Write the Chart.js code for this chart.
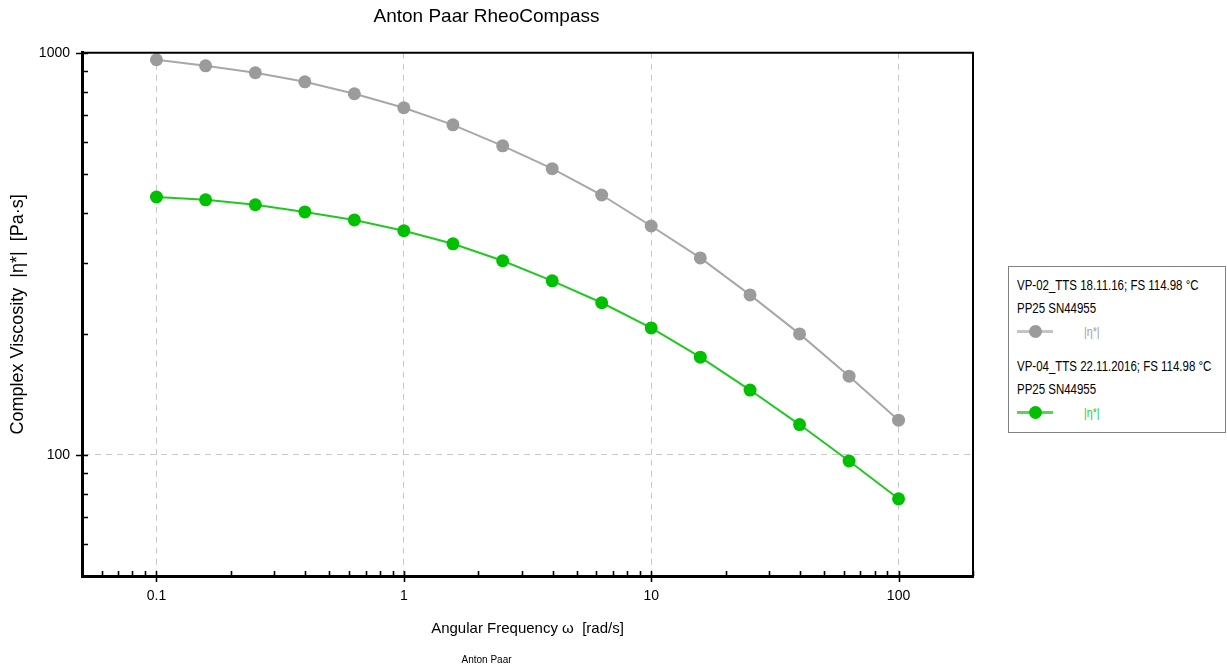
<!DOCTYPE html>
<html>
<head>
<meta charset="utf-8">
<script src="https://cdn.jsdelivr.net/npm/chart.js@4.4.1/dist/chart.umd.min.js"></script>
<style>
  body { margin: 0; background: #fff; }
  #wrap { position: relative; width: 1227px; height: 672px; }
  #legend {
    position: absolute; left: 1008px; top: 266px; width: 216px; height: 165px;
    border: 1px solid #808080; background: #fff;
    font-family: "Liberation Sans", Arial, sans-serif; font-size: 14px; color: #000;
  }
  .lg-text { position: absolute; left: 8px; white-space: nowrap; line-height: 16px;
             transform: scaleX(0.82); transform-origin: left center; }
  .lg-line { position: absolute; left: 8px; width: 36px; height: 3px; }
  .lg-dot { position: absolute; left: 20px; width: 13px; height: 13px; border-radius: 50%; }
  .lg-lab { position: absolute; left: 75px; line-height: 16px; font-size: 13px;
            transform: scaleX(0.82); transform-origin: left center; }
</style>
</head>
<body>
<div id="wrap">
  <canvas id="c"></canvas>
  <div id="legend"></div>
</div>
<script>
// angular frequency, rad/s
const omega = [0.1, 0.158, 0.251, 0.398, 0.631, 1, 1.58, 2.51, 3.98, 6.31, 10, 15.8, 25.1, 39.8, 63.1, 100];
// complex viscosity |eta*|, Pa.s
const etaVP02 = [961, 928, 892, 847, 791, 730, 662, 587, 515, 443, 371, 309, 250, 200, 157, 122];
const etaVP04 = [438, 431, 419, 402, 384, 361, 335, 304, 271, 239, 207, 175, 145, 119, 96.6, 77.8];

const seriesNames = ['VP-02_TTS 18.11.16; FS 114.98 °C', 'VP-04_TTS 22.11.2016; FS 114.98 °C'];
const seriesSub = 'PP25 SN44955';
const xTicks = [0.1, 1, 10, 100];
const yTicks = [100, 1000];

const SANS = '"Liberation Sans", Arial, sans-serif';

const GRAY = '#9b9b9b', GREEN = '#00c000';

// inward minor ticks + crossing major ticks, and the top/right frame
const frameTicks = {
  id: 'frameTicks',
  afterDraw(chart) {
    const {ctx, chartArea: a, scales: {x, y}} = chart;
    ctx.save();
    ctx.strokeStyle = '#000';
    ctx.lineWidth = 2;
    ctx.beginPath();
    ctx.moveTo(a.left, a.top); ctx.lineTo(a.right, a.top); ctx.lineTo(a.right, a.bottom);
    ctx.stroke();
    ctx.lineWidth = 1.6;
    ctx.beginPath();
    for (let d = 0.01; d <= 1000; d *= 10) {
      for (let k = 1; k < 10; k++) {
        const v = k * d;
        const major = k === 1;
        if (v >= x.min * 0.999 && v <= x.max * 1.001) {
          const px = Math.round(x.getPixelForValue(v)) + 0.5;
          ctx.moveTo(px, a.bottom - 5);
          ctx.lineTo(px, a.bottom + (major ? 6 : 0));
        }
        if (v >= y.min * 0.999 && v <= y.max * 1.001) {
          const py = Math.round(y.getPixelForValue(v)) + 0.5;
          ctx.moveTo(a.left + 6, py);
          ctx.lineTo(a.left - (major ? 6 : 0), py);
        }
      }
    }
    ctx.stroke();
    ctx.restore();
  }
};

new Chart(document.getElementById('c'), {
  type: 'line',
  data: {
    datasets: [
      {
        label: seriesNames[0],
        data: omega.map((w, i) => ({x: w, y: etaVP02[i]})),
        borderColor: '#a8a8a8', borderWidth: 2,
        pointBackgroundColor: GRAY, pointBorderWidth: 0, pointRadius: 6.5,
        tension: 0
      },
      {
        label: seriesNames[1],
        data: omega.map((w, i) => ({x: w, y: etaVP04[i]})),
        borderColor: '#22c822', borderWidth: 2,
        pointBackgroundColor: GREEN, pointBorderWidth: 0, pointRadius: 6.5,
        tension: 0
      }
    ]
  },
  options: {
    responsive: true,
    maintainAspectRatio: false,
    animation: false,
    layout: { padding: { right: 254 } },
    scales: {
      x: {
        type: 'logarithmic', min: 0.05, max: 200,
        afterBuildTicks: s => { s.ticks = xTicks.map(v => ({value: v, major: true})); },
        afterFit: s => { s.height = 78; },
        ticks: { color: '#000', padding: 12, font: {family: SANS, size: 14}, callback: v => String(v), maxRotation: 0 },
        grid: { color: '#c8c8c8', drawTicks: false, tickLength: 0 },
        border: { color: '#000', width: 3, dash: [6, 5] },
        title: { display: true, text: 'Angular Frequency ω  [rad/s]', color: '#000',
                 font: {family: SANS, size: 15}, padding: {top: 0, bottom: 16} }
      },
      y: {
        type: 'logarithmic', min: 50, max: 1000,
        afterBuildTicks: s => { s.ticks = yTicks.map(v => ({value: v, major: true})); },
        afterFit: s => { s.width = 82; },
        ticks: { color: '#000', padding: 12, font: {family: SANS, size: 14}, callback: v => String(v) },
        grid: { color: '#c8c8c8', drawTicks: false, tickLength: 0 },
        border: { color: '#000', width: 3, dash: [6, 5] },
        title: { display: true, text: 'Complex Viscosity  |η*|  [Pa·s]', color: '#000',
                 font: {family: SANS, size: 18}, padding: {top: 7, bottom: 0} }
      }
    },
    plugins: {
      legend: { display: false },
      tooltip: { enabled: false },
      title: { display: true, text: 'Anton Paar RheoCompass', color: '#000',
               font: {family: SANS, size: 19, weight: 'normal'}, padding: {top: 5, bottom: 25} },
      subtitle: { display: true, position: 'bottom', text: 'Anton Paar', color: '#000',
                  font: {family: SANS, size: 10}, padding: {top: 0, bottom: 6} }
    }
  },
  plugins: [frameTicks]
});

// legend box, drawn as HTML text
const lg = document.getElementById('legend');
const legendRows = [
  {name: seriesNames[0], line: '#c4c4c4', dot: GRAY, labCol: '#a0a0a0', top: 0},
  {name: seriesNames[1], line: '#55d655', dot: GREEN, labCol: '#2ccc2c', top: 81}
];
legendRows.forEach(r => {
  lg.insertAdjacentHTML('beforeend',
    `<div class="lg-text" style="top:${r.top + 10}px">${r.name}</div>` +
    `<div class="lg-text" style="top:${r.top + 33}px">${seriesSub}</div>` +
    `<div class="lg-line" style="top:${r.top + 63}px;background:${r.line}"></div>` +
    `<div class="lg-dot" style="top:${r.top + 58}px;background:${r.dot}"></div>` +
    `<div class="lg-lab" style="top:${r.top + 57}px;color:${r.labCol}">|η*|</div>`);
});
</script>
</body>
</html>
